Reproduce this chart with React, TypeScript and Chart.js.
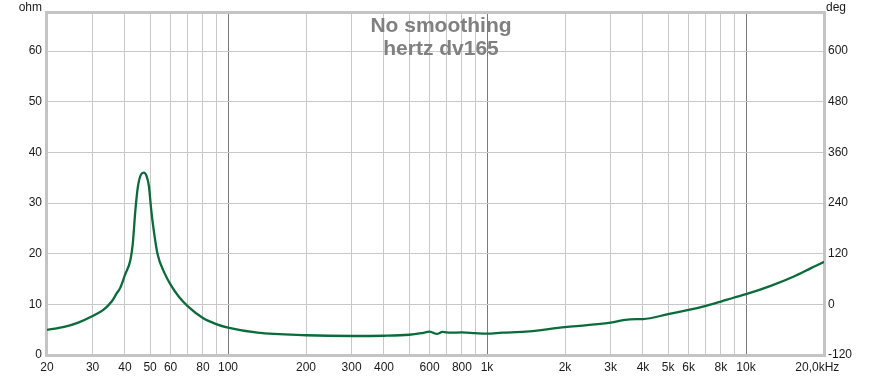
import { useEffect, useRef } from 'react';
import { Chart, registerables } from 'chart.js';

Chart.register(...registerables);

// Impedance curve (frequency in Hz, impedance in ohm)
const FREQ_HZ = [
  20, 23.5, 26.4, 30, 33, 35.6, 37.2, 38.3, 40, 42, 42.9, 43.9, 44.9, 46.1, 47.3, 48.4,
  49.5, 50.5, 51.6, 53.4, 56.8, 60, 64.6, 70, 80, 90, 100, 130, 200, 300, 400, 500, 557,
  600, 618, 640, 673, 720, 800, 900, 1000, 1143, 1405, 2000, 2438, 3000, 3560, 4000, 5000,
  6000, 7000, 8000, 9000, 10000, 12450, 15300, 17900, 19600, 20000,
];
const IMPEDANCE_OHM = [
  4.95, 5.6, 6.4, 7.7, 8.9, 10.6, 12.2, 13.2, 15.8, 18.8, 22.1, 28.7, 33.3, 35.6, 36.0, 35.4,
  33.3, 28.7, 24.8, 20.0, 16.2, 13.9, 11.5, 9.6, 7.3, 6.1, 5.4, 4.4, 3.9, 3.75, 3.8, 4.0, 4.3,
  4.6, 4.4, 4.15, 4.55, 4.4, 4.45, 4.3, 4.2, 4.4, 4.6, 5.5, 5.9, 6.4, 7.05, 7.1, 8.05,
  8.9, 9.7, 10.55, 11.35, 12.0, 13.65, 15.5, 17.2, 18.15, 18.4,
];

// Axis ticks
const X_GRID_TICKS = [
  20, 30, 40, 50, 60, 70, 80, 90, 100, 200, 300, 400, 500, 600, 700, 800, 900,
  1000, 2000, 3000, 4000, 5000, 6000, 7000, 8000, 9000, 10000, 20000,
];
const X_LABEL_VALUES = [20, 30, 40, 50, 60, 80, 100, 200, 300, 400, 600, 800, 1000, 2000, 3000, 4000, 5000, 6000, 8000, 10000, 20000];
const X_LABEL_TEXTS = ['20', '30', '40', '50', '60', '80', '100', '200', '300', '400', '600', '800', '1k', '2k', '3k', '4k', '5k', '6k', '8k', '10k', '20,0kHz    '];
const X_DECADE_LINES = [100, 1000, 10000];
const OHM_TICKS = [0, 10, 20, 30, 40, 50, 60];
const DEG_TICKS = [-120, 0, 120, 240, 360, 480, 600];
const OHM_RANGE = [0, 67.5];
const DEG_RANGE = [-120, 690];
const TITLE_LINES = ['No smoothing', 'hertz dv165'];
const LEFT_UNIT = 'ohm';
const RIGHT_UNIT = 'deg';

const FONT = '"Liberation Sans", Arial, sans-serif';

export default function App() {
  const ref = useRef<HTMLCanvasElement | null>(null);

  useEffect(() => {
    const canvas = ref.current;
    if (!canvas) return;

    const decorPlugin = {
      id: 'decor',
      beforeDatasetsDraw(chart: any) {
        const { ctx, chartArea } = chart;
        const a = chartArea;
        ctx.save();
        ctx.strokeStyle = '#c4c4c4';
        ctx.lineWidth = 3;
        ctx.strokeRect(a.left - 0.5, a.top - 0.5, a.right - a.left + 1, a.bottom - a.top + 1);
        ctx.fillStyle = '#808080';
        ctx.font = `bold 21px ${FONT}`;
        ctx.textAlign = 'center';
        ctx.textBaseline = 'alphabetic';
        ctx.fillText(TITLE_LINES[0], 441, 32);
        ctx.fillText(TITLE_LINES[1], 441, 55);
        ctx.restore();
      },
      afterDraw(chart: any) {
        const { ctx, chartArea } = chart;
        ctx.save();
        ctx.fillStyle = '#1a1a1a';
        ctx.font = `12px ${FONT}`;
        ctx.textBaseline = 'alphabetic';
        ctx.textAlign = 'right';
        ctx.fillText(LEFT_UNIT, chartArea.left - 5, 10.5);
        ctx.textAlign = 'left';
        ctx.fillText(RIGHT_UNIT, chartArea.right + 2, 10.5);
        ctx.restore();
      },
    };

    const chart = new Chart(canvas, {
      type: 'line',
      data: {
        datasets: [
          {
            data: FREQ_HZ.map((f, i) => ({ x: f, y: IMPEDANCE_OHM[i] })),
            borderColor: '#0b6b3a',
            borderWidth: 2.3,
            pointRadius: 0,
            cubicInterpolationMode: 'monotone',
            fill: false,
            yAxisID: 'y',
          },
        ],
      },
      options: {
        animation: false,
        responsive: false,
        devicePixelRatio: 1,
        layout: { padding: { top: 13, left: 0, right: 0, bottom: 0 } },
        plugins: { legend: { display: false }, tooltip: { enabled: false }, title: { display: false } },
        scales: {
          x: {
            type: 'logarithmic',
            min: 20,
            max: 20000,
            afterBuildTicks: (s: any) => {
              s.ticks = X_GRID_TICKS.map((v) => ({ value: v }));
            },
            afterFit: (s: any) => {
              s.height = 21;
            },
            ticks: {
              autoSkip: false,
              maxRotation: 0,
              minRotation: 0,
              padding: 5,
              color: '#1a1a1a',
              font: { family: FONT, size: 12 },
              callback: (v: any) => {
                const i = X_LABEL_VALUES.indexOf(Number(v));
                return i >= 0 ? X_LABEL_TEXTS[i] : '';
              },
            },
            grid: {
              drawTicks: false,
              lineWidth: 1,
              color: (c: any) =>
                c.tick && X_DECADE_LINES.includes(c.tick.value) ? '#7a7a7a' : '#c8c8c8',
            },
            border: { display: false },
          },
          y: {
            type: 'linear',
            position: 'left',
            min: OHM_RANGE[0],
            max: OHM_RANGE[1],
            afterBuildTicks: (s: any) => {
              s.ticks = OHM_TICKS.map((v) => ({ value: v }));
            },
            afterFit: (s: any) => {
              s.width = 47;
            },
            ticks: {
              padding: 5,
              color: '#1a1a1a',
              font: { family: FONT, size: 12 },
            },
            grid: { drawTicks: false, color: '#c8c8c8', lineWidth: 1 },
            border: { display: false },
          },
          yDeg: {
            type: 'linear',
            position: 'right',
            min: DEG_RANGE[0],
            max: DEG_RANGE[1],
            afterBuildTicks: (s: any) => {
              s.ticks = DEG_TICKS.map((v) => ({ value: v }));
            },
            afterFit: (s: any) => {
              s.width = 57;
            },
            ticks: {
              padding: 4,
              color: '#1a1a1a',
              font: { family: FONT, size: 12 },
            },
            grid: { display: false, drawTicks: false },
            border: { display: false },
          },
        },
      },
      plugins: [decorPlugin],
    } as any);

    return () => chart.destroy();
  }, []);

  return (
    <div style={{ position: 'fixed', left: 0, top: 0, width: 881, height: 376, background: '#fff' }}>
      <canvas ref={ref} width={881} height={376} style={{ display: 'block', width: 881, height: 376 }} />
    </div>
  );
}
